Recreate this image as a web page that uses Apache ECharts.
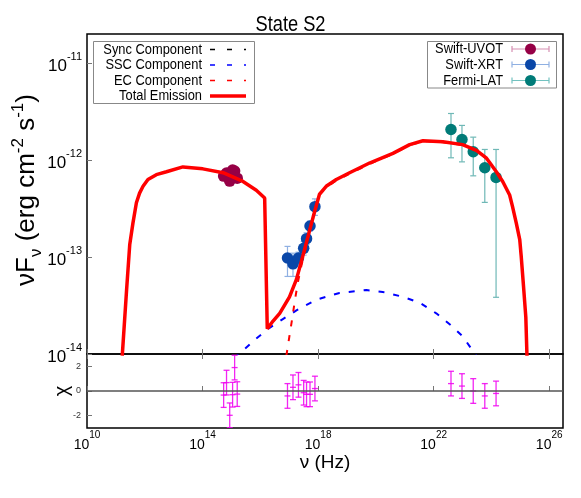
<!DOCTYPE html>
<html>
<head>
<meta charset="utf-8">
<script src="https://cdn.jsdelivr.net/npm/echarts@6/dist/echarts.min.js"></script>
<style>
  html, body { margin: 0; padding: 0; background: #fff; }
  #chart { width: 581px; height: 498px; }
</style>
</head>
<body>
<div id="chart"></div>
<script>
// all values are log10 (nu in Hz, nuFnu in erg cm-2 s-1)
const totalNu = [11.22, 11.37, 11.48, 11.59, 11.71, 11.82, 11.94, 12.11, 12.40, 12.75, 13.32, 14.01, 14.71, 15.40, 15.86, 16.15, 16.24, 16.44, 16.67, 17.01, 17.25, 17.47, 17.71, 17.88, 18.05, 18.28, 18.63, 19.09, 19.78, 20.59, 21.17, 21.63, 22.32, 23.00, 23.48, 23.83, 24.17, 24.39, 24.63, 24.73, 24.86, 24.98, 25.03, 25.11, 25.19, 25.23]
const totalFlux = [-14.02, -13.34, -12.87, -12.65, -12.44, -12.34, -12.27, -12.20, -12.15, -12.12, -12.07, -12.09, -12.13, -12.22, -12.31, -12.39, -13.74, -13.66, -13.58, -13.41, -13.23, -12.99, -12.72, -12.53, -12.35, -12.27, -12.20, -12.13, -12.03, -11.93, -11.84, -11.80, -11.81, -11.84, -11.90, -11.98, -12.12, -12.22, -12.36, -12.48, -12.65, -12.82, -12.99, -13.30, -13.62, -14.02]

const syncNu = [11.22, 11.37, 11.48, 11.59, 11.71, 11.82, 11.94, 12.11, 12.40, 12.75, 13.32, 14.01, 14.71, 15.40, 15.86, 16.15, 16.24]
const syncFlux = [-14.02, -13.34, -12.87, -12.65, -12.44, -12.34, -12.27, -12.20, -12.15, -12.12, -12.07, -12.09, -12.13, -12.22, -12.31, -12.39, -13.74]

const sscNu = [15.10, 15.34, 15.86, 16.32, 16.78, 17.25, 17.94, 18.74, 19.67, 20.24, 20.93, 21.51, 22.09, 22.66, 23.01, 23.36, 23.55]
const sscFlux = [-14.05, -13.98, -13.84, -13.73, -13.64, -13.55, -13.44, -13.37, -13.34, -13.36, -13.41, -13.47, -13.58, -13.72, -13.82, -13.97, -14.05]

const ecNu = [16.90, 17.00, 17.10, 17.20, 17.30, 17.42, 17.53, 17.71, 17.88, 18.05, 18.28, 18.63, 19.09, 19.78, 20.59, 21.17, 21.63, 22.32, 23.00, 23.48, 23.83, 24.17, 24.39, 24.63, 24.73, 24.86, 24.98, 25.03, 25.11, 25.19, 25.23]
const ecFlux = [-14.02, -13.83, -13.64, -13.44, -13.26, -13.09, -12.96, -12.73, -12.54, -12.36, -12.28, -12.21, -12.14, -12.04, -11.935, -11.845, -11.805, -11.815, -11.845, -11.905, -11.985, -12.12, -12.22, -12.36, -12.48, -12.65, -12.82, -12.99, -13.30, -13.62, -14.02]

const uvotNu = [14.73, 14.83, 14.94, 15.04, 15.11, 15.20]
const uvotFlux = [-12.165, -12.134, -12.216, -12.103, -12.113, -12.186]
const uvotChi = [-0.33, 0.68, -1.97, -0.30, 1.90, -0.25]

const xrtNu = [16.94, 17.13, 17.32, 17.50, 17.60, 17.72, 17.89]
const xrtFlux = [-13.01, -13.07, -13.01, -12.91, -12.81, -12.68, -12.48]
const xrtLow = [-13.20, -13.20, -13.08, -12.98, -12.87, -12.73, -12.57]
const xrtHigh = [-12.89, -12.96, -12.95, -12.84, -12.75, -12.63, -12.40]
const xrtChi = [-0.40, 0.30, 0.50, -0.14, -0.27, -0.27, 0.20]

const latNu = [22.60, 22.98, 23.37, 23.77, 24.16]
const latFlux = [-11.684, -11.787, -11.914, -12.079, -12.178]
const latLow = [-11.976, -12.018, -12.162, -12.436, -13.415]
const latHigh = [-11.519, -11.642, -11.763, -11.890, -11.890]
const latChi = [0.60, 0.40, 0.00, -0.40, -0.20]

const xTicks = [10, 14, 18, 22, 26]
const yTicks = [-14, -13, -12, -11]
const chiTicks = [-2, 0, 2]

const xMin = 10
const xMax = Math.log10(3e26)
const yMin = -14
const yMax = Math.log10(2e-11)

const font = "'Liberation Sans', Arial, sans-serif"
const narrow = 0.83 // gnuplot's text is a bit condensed
const colUvot = '#960046'
const colXrt = '#0a47a8'
const colLat = '#007b78'

const zip = (a, b) => a.map((v, i) => [v, b[i]])

// vertical error bar with caps
function errBar(color, cap) {
  return function (params, api) {
    const x = api.value(0)
    const lo = api.coord([x, api.value(1)])
    const hi = api.coord([x, api.value(2)])
    const st = { stroke: color, lineWidth: 1.2 }
    return {
      type: 'group',
      children: [
        { type: 'line', shape: { x1: lo[0], y1: lo[1], x2: hi[0], y2: hi[1] }, style: st },
        { type: 'line', shape: { x1: lo[0] - cap, y1: lo[1], x2: lo[0] + cap, y2: lo[1] }, style: st },
        { type: 'line', shape: { x1: hi[0] - cap, y1: hi[1], x2: hi[0] + cap, y2: hi[1] }, style: st },
      ],
    }
  }
}

// residual: chi +- 1 with caps and a centre tick
function chiBar(params, api) {
  const x = api.value(0)
  const c = api.value(1)
  const lo = api.coord([x, c - 1])
  const hi = api.coord([x, c + 1])
  const mid = api.coord([x, c])
  const st = { stroke: 'rgba(240,0,240,0.85)', lineWidth: 1.3 }
  const h = (p) => ({ type: 'line', shape: { x1: p[0] - 3, y1: p[1], x2: p[0] + 3, y2: p[1] }, style: st })
  return {
    type: 'group',
    children: [
      { type: 'line', shape: { x1: lo[0], y1: lo[1], x2: hi[0], y2: hi[1] }, style: st },
      h(lo), h(hi), h(mid),
    ],
  }
}

const supRich = (base, sup, baseLh) => ({
  b: { fontSize: base, fontFamily: font, color: '#000', verticalAlign: 'bottom' },
  s: { fontSize: sup, fontFamily: font, color: '#000', verticalAlign: 'top', lineHeight: baseLh },
})

function label(x, y, text, size, align) {
  return {
    type: 'text', x, y, scaleX: narrow,
    style: { text, fontSize: size, fontFamily: font, fill: '#000', align: align || 'right', verticalAlign: 'middle' },
  }
}

function legendLeft() {
  const rows = [
    ['Sync Component', '#000', 1.5, [5, 12]],
    ['SSC Component', '#0000ff', 1.5, [5, 12]],
    ['EC Component', '#ff0000', 1.5, [5, 12]],
    ['Total Emission', '#ff0000', 3.5, null],
  ]
  const ys = [49.5, 65, 80.5, 96]
  const out = [{ type: 'rect', shape: { x: 93.5, y: 41.5, width: 161, height: 62 }, style: { fill: '#fff', stroke: '#888', lineWidth: 1 } }]
  rows.forEach((r, i) => {
    out.push(label(202, ys[i], r[0], 15.5))
    out.push({ type: 'line', shape: { x1: 210, y1: ys[i], x2: 246, y2: ys[i] }, style: { stroke: r[1], lineWidth: r[2], lineDash: r[3] } })
  })
  return out
}

function legendRight() {
  const rows = [
    ['Swift-UVOT', colUvot, '#d68fb2'],
    ['Swift-XRT', colXrt, '#8fb0e2'],
    ['Fermi-LAT', colLat, '#72c2c0'],
  ]
  const ys = [49, 64.5, 80.5]
  const out = [{ type: 'rect', shape: { x: 427.5, y: 41.5, width: 129, height: 46.5 }, style: { fill: '#fff', stroke: '#888', lineWidth: 1 } }]
  rows.forEach((r, i) => {
    const y = ys[i]
    const st = { stroke: r[2], lineWidth: 1.2 }
    out.push(label(503, y, r[0], 15.5))
    out.push({ type: 'line', shape: { x1: 512, y1: y, x2: 549, y2: y }, style: st })
    out.push({ type: 'line', shape: { x1: 512, y1: y - 3, x2: 512, y2: y + 3 }, style: st })
    out.push({ type: 'line', shape: { x1: 549, y1: y - 3, x2: 549, y2: y + 3 }, style: st })
    out.push({ type: 'circle', shape: { cx: 530.5, cy: y, r: 5.5 }, style: { fill: r[1] } })
  })
  return out
}

const tickStyle = { inside: true, length: 5, lineStyle: { color: '#777', width: 1 } }

const chart = echarts.init(document.getElementById('chart'))
chart.setOption({
  animation: false,
  backgroundColor: '#fff',
  textStyle: { fontFamily: font },
  grid: [
    { left: 87, top: 34, width: 476, height: 320, show: true, borderColor: '#000', borderWidth: 1.5, backgroundColor: 'transparent' },
    { left: 87, top: 354, width: 476, height: 74, show: true, borderColor: '#000', borderWidth: 1.5, backgroundColor: 'transparent' },
  ],
  xAxis: [
    {
      gridIndex: 0, type: 'value', min: xMin, max: xMax, interval: 4,
      axisLine: { show: false }, splitLine: { show: false },
      axisTick: Object.assign({ customValues: xTicks }, tickStyle),
      axisLabel: { show: false },
    },
    {
      gridIndex: 1, type: 'value', min: xMin, max: xMax, interval: 4,
      axisLine: { show: false }, splitLine: { show: false },
      axisTick: Object.assign({ customValues: xTicks }, tickStyle),
      axisLabel: {
        customValues: xTicks, margin: 2,
        formatter: (v) => '{b|10}{s|' + Math.round(v) + '}',
        rich: supRich(14, 10, 22),
      },
      name: 'ν (Hz)', nameLocation: 'middle', nameGap: 25,
      nameTextStyle: { fontSize: 19, color: '#000', fontFamily: font },
    },
    {
      gridIndex: 1, type: 'value', min: xMin, max: xMax, interval: 4, position: 'top',
      axisLine: { show: false }, splitLine: { show: false },
      axisTick: Object.assign({ customValues: xTicks }, tickStyle),
      axisLabel: { show: false },
    },
  ],
  yAxis: [
    {
      gridIndex: 0, type: 'value', min: yMin, max: yMax, interval: 1,
      axisLine: { show: false }, splitLine: { show: false },
      axisTick: Object.assign({ customValues: yTicks }, tickStyle),
      axisLabel: {
        customValues: yTicks, margin: 5,
        formatter: (v) => '{b|10}{s|' + Math.round(v) + '}',
        rich: supRich(17, 11, 24),
      },
    },
    {
      gridIndex: 1, type: 'value', min: -3, max: 3, interval: 1,
      axisLine: { show: false }, splitLine: { show: false },
      axisTick: Object.assign({ customValues: chiTicks }, tickStyle),
      axisLabel: { customValues: chiTicks, fontSize: 9, color: '#333', margin: 6 },
    },
  ],
  graphic: [
    label(290.5, 25, 'State S2', 22, 'center'),
    {
      type: 'text', x: 27, y: 190, rotation: Math.PI / 2,
      style: {
        text: '{a|νF}{d|ν}{a| (erg cm}{u|-2}{a| s}{u|-1}{a|)}',
        align: 'center', verticalAlign: 'middle',
        rich: {
          a: { fontSize: 26, fontFamily: font, fill: '#000', lineHeight: 35 },
          d: { fontSize: 17, fontFamily: font, fill: '#000', verticalAlign: 'bottom' },
          u: { fontSize: 17, fontFamily: font, fill: '#000', verticalAlign: 'top' },
        },
      },
    },
    {
      type: 'text', x: 62, y: 391, rotation: Math.PI / 2,
      style: { text: 'χ', fontSize: 20, fontFamily: font, fill: '#000', align: 'center', verticalAlign: 'middle' },
    },
    ...legendLeft(),
    ...legendRight(),
  ],
  series: [
    {
      name: 'Sync Component', type: 'line', xAxisIndex: 0, yAxisIndex: 0, data: zip(syncNu, syncFlux),
      symbol: 'none', lineStyle: { color: '#000', width: 1.5, type: [6, 9] }, silent: true,
    },
    {
      name: 'SSC Component', type: 'line', xAxisIndex: 0, yAxisIndex: 0, data: zip(sscNu, sscFlux),
      symbol: 'none', lineStyle: { color: '#0000ff', width: 2, type: [6, 9] }, silent: true,
    },
    {
      name: 'EC Component', type: 'line', xAxisIndex: 0, yAxisIndex: 0, data: zip(ecNu, ecFlux),
      symbol: 'none', lineStyle: { color: '#ff0000', width: 2, type: [6, 9] }, silent: true,
    },
    {
      name: 'Total Emission', type: 'line', xAxisIndex: 0, yAxisIndex: 0, data: zip(totalNu, totalFlux),
      symbol: 'none', lineStyle: { color: '#ff0000', width: 3.5 }, silent: true,
    },
    {
      type: 'custom', xAxisIndex: 0, yAxisIndex: 0, renderItem: errBar('#8fb0e2', 3),
      data: xrtNu.map((v, i) => [v, xrtLow[i], xrtHigh[i]]), clip: true, silent: true,
    },
    {
      type: 'custom', xAxisIndex: 0, yAxisIndex: 0, renderItem: errBar('#6fb8b6', 3),
      data: latNu.map((v, i) => [v, latLow[i], latHigh[i]]), clip: true, silent: true,
    },
    {
      name: 'Swift-UVOT', type: 'scatter', xAxisIndex: 0, yAxisIndex: 0, data: zip(uvotNu, uvotFlux),
      symbol: 'circle', symbolSize: 11.5, itemStyle: { color: colUvot, opacity: 1 },
    },
    {
      name: 'Swift-XRT', type: 'scatter', xAxisIndex: 0, yAxisIndex: 0, data: zip(xrtNu, xrtFlux),
      symbol: 'circle', symbolSize: 11.5, itemStyle: { color: colXrt, opacity: 1 },
    },
    {
      name: 'Fermi-LAT', type: 'scatter', xAxisIndex: 0, yAxisIndex: 0, data: zip(latNu, latFlux),
      symbol: 'circle', symbolSize: 11.5, itemStyle: { color: colLat, opacity: 1 },
    },
    {
      type: 'custom', xAxisIndex: 1, yAxisIndex: 1, renderItem: chiBar, clip: true, silent: true,
      data: zip(uvotNu, uvotChi).concat(zip(xrtNu, xrtChi), zip(latNu, latChi)),
      markLine: {
        silent: true, symbol: 'none', label: { show: false },
        lineStyle: { color: '#555', width: 1.5, type: 'solid' },
        data: [{ yAxis: 0 }],
      },
    },
  ],
})
</script>
</body>
</html>
